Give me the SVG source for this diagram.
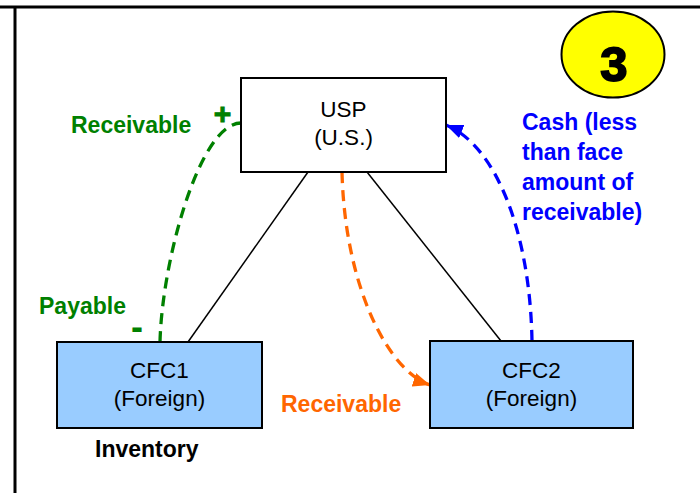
<svg xmlns="http://www.w3.org/2000/svg" width="700" height="493" viewBox="0 0 700 493">
<defs>
<style>
.box{stroke:#000;stroke-width:2}
.t{font-family:"Liberation Sans",Arial,sans-serif;font-size:22.5px;fill:#000;text-anchor:middle}
.b{font-family:"Liberation Sans",Arial,sans-serif;font-size:23px;font-weight:bold}
.dash{fill:none;stroke-width:3.3;stroke-dasharray:11 7}
</style>
<marker id="arrO" markerUnits="userSpaceOnUse" markerWidth="17" markerHeight="14" refX="17" refY="7" orient="auto">
<path d="M0,0 L17,7 L0,14 z" fill="#FF6600"/>
</marker>
<marker id="arrB" markerUnits="userSpaceOnUse" markerWidth="17" markerHeight="14" refX="17" refY="7" orient="auto">
<path d="M0,0 L17,7 L0,14 z" fill="#0000FF"/>
</marker>
</defs>
<rect width="700" height="493" fill="#fff"/>
<g id="frame">
<line x1="0" y1="7" x2="700" y2="7" stroke="#000" stroke-width="3"/>
<line x1="15" y1="7" x2="15" y2="493" stroke="#000" stroke-width="3"/>
</g>
<g id="connectors">
<line x1="308" y1="172" x2="188" y2="342" stroke="#000" stroke-width="1.5"/>
<line x1="367" y1="172" x2="501" y2="341" stroke="#000" stroke-width="1.5"/>
<path class="dash" stroke="#008000" d="M160,342 C162,260 200,123 241,123"/>
<path class="dash" stroke="#FF6600" d="M342,172 C345,290 390,372 430,385" marker-end="url(#arrO)"/>
<path class="dash" stroke="#0000FF" d="M532,341 C530,230 495,145 446,125" marker-end="url(#arrB)"/>
</g>
<g id="usp">
<rect class="box" x="241" y="78" width="205" height="94" fill="#fff"/>
<text class="t" x="343.5" y="117">USP</text>
<text class="t" x="343.5" y="145">(U.S.)</text>
</g>
<g id="cfc1">
<rect class="box" x="57" y="342" width="205" height="86" fill="#99CCFF"/>
<text class="t" x="159.5" y="378">CFC1</text>
<text class="t" x="159.5" y="406">(Foreign)</text>
</g>
<g id="cfc2">
<rect class="box" x="430" y="341" width="203" height="87" fill="#99CCFF"/>
<text class="t" x="531.5" y="378">CFC2</text>
<text class="t" x="531.5" y="406">(Foreign)</text>
</g>
<g id="badge">
<ellipse cx="613" cy="54.5" rx="51.5" ry="43" fill="#FFFF00" stroke="#000" stroke-width="2"/>
<text x="614" y="81" text-anchor="middle" font-family="Liberation Sans,Arial,sans-serif" font-size="49" font-weight="bold" stroke="#000" stroke-width="1.8">3</text>
</g>
<g id="labels">
<text class="b" x="71" y="133" fill="#008000">Receivable</text>
<text class="b" x="222.5" y="124" fill="#008000" stroke="#008000" stroke-width="1" text-anchor="middle" style="font-size:30px">+</text>
<text class="b" x="39" y="314" fill="#008000">Payable</text>
<text class="b" x="137" y="339" fill="#008000" text-anchor="middle" style="font-size:36px">-</text>
<text class="b" x="281" y="412" fill="#FF6600">Receivable</text>
<text class="b" x="95" y="457" fill="#000">Inventory</text>
<text class="b" fill="#0000FF">
<tspan x="522" y="130">Cash (less</tspan>
<tspan x="522" y="160">than face</tspan>
<tspan x="522" y="190">amount of</tspan>
<tspan x="522" y="220">receivable)</tspan>
</text>
</g>
</svg>
